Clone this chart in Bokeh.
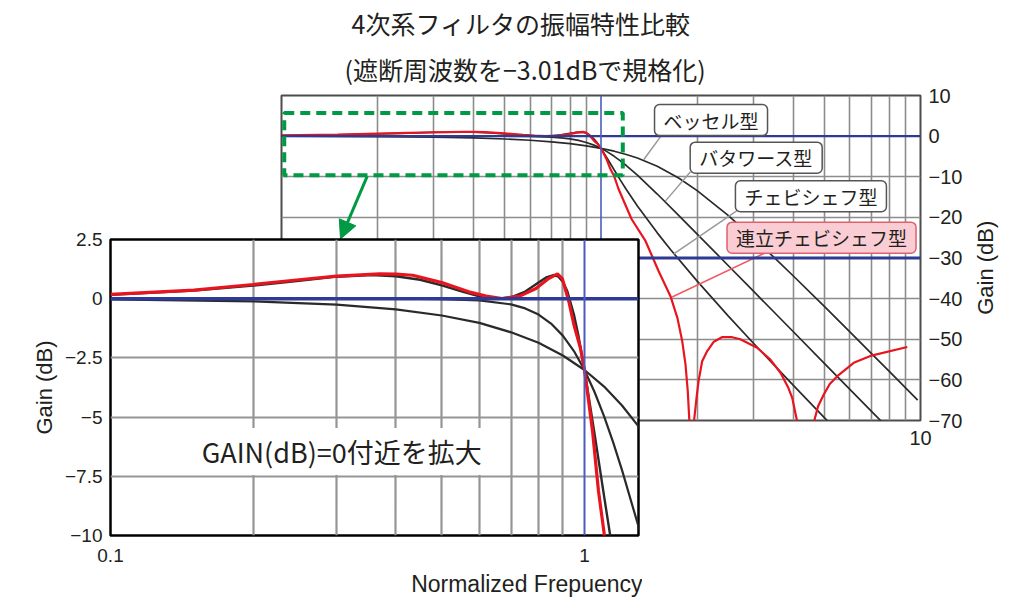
from bokeh.plotting import figure
from bokeh.models import (Span, BoxAnnotation, Arrow, NormalHead, Label, Title,
                          FixedTicker, Range1d)
from bokeh.layouts import column
from bokeh.embed import file_html
from bokeh.resources import INLINE

# ---------------- data (normalized frequency, gain dB) ----------------
freq_bessel = [0.1, 0.2, 0.3, 0.4, 0.5, 0.6, 0.7, 0.8, 0.9, 1.0, 1.1, 1.2, 1.3,
               1.5, 1.75, 2.0, 2.5, 3.0, 3.5, 4.0, 5.0, 6.0, 7.0, 8.0, 9.8]
gain_bessel = [-0.03, -0.11, -0.25, -0.45, -0.71, -1.02, -1.42, -1.86, -2.40, -3.01,
               -3.71, -4.51, -5.39, -7.42, -10.32, -13.41, -19.52, -25.09, -30.04,
               -34.43, -41.92, -48.12, -53.40, -57.99, -65.0]

freq_butter = [0.1, 0.3, 0.4, 0.5, 0.6, 0.7, 0.75, 0.8, 0.85, 0.9, 0.95, 1.0, 1.05,
               1.1, 1.15, 1.2, 1.3, 1.5, 1.75, 2.0, 2.5, 3.0, 4.0, 5.0, 7.0, 8.0]
gain_butter = [0.0, 0.0, 0.0, -0.02, -0.07, -0.24, -0.41, -0.67, -1.05, -1.56, -2.21,
               -3.01, -3.94, -4.97, -6.08, -7.24, -9.62, -14.25, -19.49, -24.10,
               -31.84, -38.17, -48.16, -55.92, -67.61, -72.25]

freq_cheby = [0.1, 0.15, 0.2, 0.25, 0.3, 0.356, 0.4, 0.45, 0.5, 0.55, 0.6, 0.658,
              0.7, 0.75, 0.8, 0.83, 0.86, 0.88, 0.9, 0.92, 0.95, 0.97, 1.0, 1.05,
              1.1, 1.15, 1.2, 1.3, 1.5, 1.65, 2.0, 2.5, 3.0, 4.0, 5.0, 5.5]
gain_cheby = [0.16, 0.34, 0.55, 0.76, 0.93, 1.0, 0.95, 0.80, 0.56, 0.31, 0.10, 0.0,
              0.06, 0.30, 0.68, 0.90, 1.0, 0.94, 0.72, 0.31, -0.67, -1.52, -3.01,
              -5.70, -8.35, -10.83, -13.12, -17.18, -23.81, -27.91, -35.70, -44.24,
              -50.98, -61.36, -69.29, -72.6]

freq_ellip = [0.1, 0.15, 0.2, 0.25, 0.3, 0.37, 0.4, 0.434, 0.5, 0.57, 0.62, 0.67,
              0.73, 0.79, 0.84, 0.877, 0.898, 0.927, 0.95, 0.98, 1.0, 1.04, 1.07,
              1.1, 1.134, 1.246, 1.378, 1.514, 1.65, 1.735, 1.796, 1.838, 1.869,
              1.892, 1.92, 1.952, 1.991, 2.02, 2.073, 2.15, 2.255, 2.39, 2.574,
              2.73, 3.08, 3.39, 3.65, 3.85, 3.97, 4.11, 4.36, 4.63, 4.78, 4.98,
              5.2, 5.49, 6.18, 6.97, 9.09]
gain_ellip = [0.18, 0.36, 0.6, 0.8, 0.95, 1.05, 1.04, 0.99, 0.68, 0.29, 0.11, 0.01,
              0.11, 0.43, 0.85, 1.05, 0.85, -0.13, -1.1, -2.07, -3.0, -5.6, -8.1,
              -9.9, -12.95, -20.4, -25.8, -33.2, -39.4, -44.8, -50.5, -56.1, -62.8,
              -70.6, -90.0, -70.6, -64.4, -60.3, -55.4, -52.9, -50.6, -49.5, -49.5,
              -50.0, -52.1, -55.0, -58.3, -61.8, -64.5, -70.2, -90.0, -70.6, -66.5,
              -63.6, -61.0, -59.1, -55.8, -54.1, -51.9]

main_y_ticks = [-70, -60, -50, -40, -30, -20, -10, 0, 10]
main_y_labels = ["−70", "−60", "−50", "−40", "−30", "−20", "−10", "0", "10"]
inset_y_ticks = [-10, -7.5, -5, -2.5, 0, 2.5]
inset_y_labels = ["−10", "−7.5", "−5", "−2.5", "0", "2.5"]

JP = "Noto Sans CJK JP"
LAT = "Liberation Sans"
TXT = "#231f20"
GRID = "#8c8c8c"
BLUE = "#2e3b96"
BLUE_V = "#4a5cc0"
RED = "#e8151f"
BLK = "#2a2a2a"
GREEN = "#009944"

# ---------------- main chart ----------------
p = figure(width=1010, height=460, x_axis_type="log",
           x_range=Range1d(0.1, 10), y_range=Range1d(-70, 10),
           y_axis_location="right", title_location=None,
           output_backend="svg", toolbar_location=None,
           min_border_left=281, min_border_right=90, min_border_top=95,
           min_border_bottom=40, background_fill_color="white",
           outline_line_color="#4d4d4d", outline_line_width=2)
p.frame_align = False

p.xaxis.ticker = FixedTicker(ticks=[10])
p.xaxis.major_label_overrides = {10: "10"}
p.yaxis.ticker = FixedTicker(ticks=main_y_ticks)
p.yaxis.major_label_overrides = dict(zip(main_y_ticks, main_y_labels))
for ax in (p.xaxis[0], p.yaxis[0]):
    ax.axis_line_color = None
    ax.major_tick_line_color = None
    ax.minor_tick_line_color = None
    ax.major_tick_out = 0
    ax.minor_tick_out = 0
    ax.major_label_standoff = 8
    ax.major_label_text_font = LAT
    ax.major_label_text_font_size = "20px"
    ax.major_label_text_color = TXT
p.xaxis.major_label_standoff = 10

p.xgrid.ticker = FixedTicker(ticks=[0.2, 0.3, 0.4, 0.5, 0.6, 0.7, 0.8, 0.9,
                                    2, 3, 4, 5, 6, 7, 8, 9])
p.ygrid.ticker = FixedTicker(ticks=[-60, -50, -40, -20, -10])
p.xgrid.grid_line_color = GRID
p.ygrid.grid_line_color = GRID
p.xgrid.grid_line_width = 1.6
p.ygrid.grid_line_width = 1.6

p.add_layout(Span(location=0, dimension="width", line_color=BLUE, line_width=2.2))
p.add_layout(Span(location=-30, dimension="width", line_color=BLUE, line_width=2.8))
p.add_layout(Span(location=1, dimension="height", line_color=BLUE_V, line_width=1.6))

p.line(freq_bessel, gain_bessel, line_color=BLK, line_width=1.7)
p.line(freq_butter, gain_butter, line_color=BLK, line_width=1.7)
p.line(freq_cheby, gain_cheby, line_color=BLK, line_width=1.7)
p.line(freq_ellip, gain_ellip, line_color=RED, line_width=2.2)

# right-hand axis title (reads bottom-to-top); held in a side panel so it is not clipped
p.add_layout(Label(x=16.0, y=-32.4, text="Gain (dB)", angle=90, angle_units="deg",
                   text_align="center", text_baseline="middle", text_font=LAT,
                   text_font_size="22px", text_color=TXT), "left")

# zoom-region marker and arrow
p.add_layout(BoxAnnotation(left=0.102, right=1.17, bottom=-9.6, top=5.7,
                           fill_alpha=0, line_color=GREEN, line_alpha=1.0,
                           line_width=4, line_dash="10 6"))
p.add_layout(Arrow(end=NormalHead(size=18, fill_color=GREEN, line_color=GREEN),
                   x_start=0.1854, y_start=-9.9, x_end=0.153, y_end=-25.3,
                   line_color=GREEN, line_width=3))

# callout leader lines
p.segment(x0=[1.569, 1.906, 2.694], y0=[0.86, -8.76, -18.1],
          x1=[1.36, 1.59, 1.69], y1=[-5.8, -16.0, -29.0],
          line_color="#9a9a9a", line_width=1.5)
p.segment(x0=[3.27], y0=[-28.7], x1=[1.67], y1=[-39.6],
          line_color="#ee5a62", line_width=1.5)

callouts = [("ベッセル型", 2.21, 3.95, "white", "#555555"),
            ("バタワース型", 3.06, -5.3, "white", "#555555"),
            ("チェビシェフ型", 4.54, -14.8, "white", "#555555"),
            ("連立チェビシェフ型", 4.90, -25.0, "#f9cdd3", "#e0606c")]
for txt, cx, cy, bg, bd in callouts:
    p.add_layout(Label(x=cx, y=cy, text=txt, text_align="center",
                       text_baseline="middle", text_font=JP,
                       text_font_size="19px", text_color=TXT,
                       background_fill_color=bg, border_line_color=bd,
                       border_line_width=1.5, border_radius=5,
                       padding=(9, 2)))

t2 = Title(text="(遮断周波数を−3.01dBで規格化)", align="left", offset=63,
           text_font=JP, text_font_size="25px", text_font_style="normal",
           text_color=TXT, standoff=17)
t1 = Title(text="4次系フィルタの振幅特性比較", align="left", offset=70,
           text_font=JP, text_font_size="25px", text_font_style="normal",
           text_color=TXT, standoff=0)
p.add_layout(t2, "above")
p.add_layout(t1, "above")

# ---------------- inset (zoom near 0 dB) ----------------
q = figure(width=642, height=375, x_axis_type="log",
           x_range=Range1d(0.1, 1.3), y_range=Range1d(-10, 2.5),
           title_location=None, output_backend="svg", toolbar_location=None,
           min_border_left=110, min_border_right=4, min_border_top=9,
           min_border_bottom=70, background_fill_color="white",
           border_fill_alpha=0, outline_line_color="black",
           outline_line_width=2.5)
q.frame_align = False
q.margin = (-230, 0, 0, 0)

q.xaxis.ticker = FixedTicker(ticks=[0.1, 1])
q.xaxis.major_label_overrides = {0.1: "0.1", 1: "1"}
q.yaxis.ticker = FixedTicker(ticks=inset_y_ticks)
q.yaxis.major_label_overrides = dict(zip(inset_y_ticks, inset_y_labels))
for ax in (q.xaxis[0], q.yaxis[0]):
    ax.axis_line_color = None
    ax.major_tick_line_color = None
    ax.minor_tick_line_color = None
    ax.major_tick_out = 0
    ax.minor_tick_out = 0
    ax.major_label_standoff = 8
    ax.major_label_text_font = LAT
    ax.major_label_text_font_size = "19px"
    ax.major_label_text_color = TXT
q.xaxis.major_label_standoff = 13
q.yaxis.axis_label = "Gain (dB)"
q.yaxis.axis_label_text_font = LAT
q.yaxis.axis_label_text_font_size = "22px"
q.yaxis.axis_label_text_font_style = "normal"
q.yaxis.axis_label_text_color = TXT
q.yaxis.axis_label_standoff = 5

q.xgrid.ticker = FixedTicker(ticks=[0.2, 0.3, 0.4, 0.5, 0.6, 0.7, 0.8, 0.9])
q.ygrid.ticker = FixedTicker(ticks=[-7.5, -5, -2.5])
q.xgrid.grid_line_color = "#959595"
q.ygrid.grid_line_color = "#959595"
q.xgrid.grid_line_width = 2.2
q.ygrid.grid_line_width = 2.2

q.add_layout(Span(location=0, dimension="width", line_color=BLUE, line_width=3.5))
q.add_layout(Span(location=1, dimension="height", line_color=BLUE_V, line_width=2))

q.line(freq_bessel, gain_bessel, line_color=BLK, line_width=2.2)
q.line(freq_butter, gain_butter, line_color=BLK, line_width=2.2)
q.line(freq_cheby, gain_cheby, line_color=BLK, line_width=2.4)
q.line(freq_ellip, gain_ellip, line_color=RED, line_width=3.2)

q.add_layout(Label(x=0.3076, y=-6.45, text="GAIN(dB)=0付近を拡大",
                   text_align="center", text_baseline="middle", text_font=JP,
                   text_font_size="27px", text_color=TXT,
                   background_fill_color="white", padding=4))

q.add_layout(Title(text="Normalized Frepuency", align="right", offset=-4,
                   text_font=LAT, text_font_size="23px", text_font_style="normal",
                   text_color=TXT, standoff=8), "below")

layout = column(p, q)
open("out.html", "w").write(file_html(layout, INLINE))
